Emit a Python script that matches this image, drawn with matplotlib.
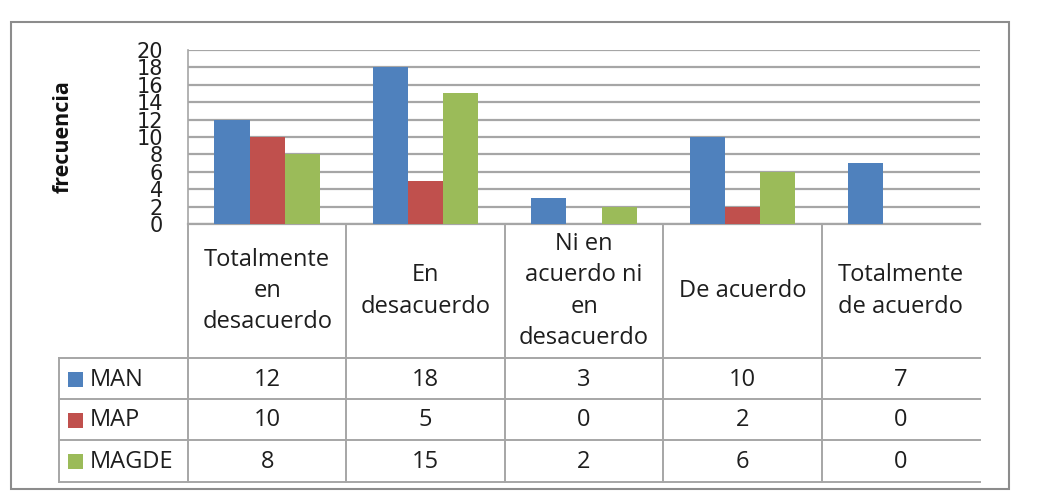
import matplotlib
matplotlib.use("Agg")
import matplotlib.pyplot as plt
from matplotlib.patches import Rectangle
from matplotlib.lines import Line2D
import numpy as np

categories = ["Totalmente\nen\ndesacuerdo", "En\ndesacuerdo",
              "Ni en\nacuerdo ni\nen\ndesacuerdo", "De acuerdo",
              "Totalmente\nde acuerdo"]
series_names = ["MAN", "MAP", "MAGDE"]
man = [12, 18, 3, 10, 7]
map_ = [10, 5, 0, 2, 0]
magde = [8, 15, 2, 6, 0]
values = [man, map_, magde]
colors = ["#4F81BD", "#C0504D", "#9BBB59"]
yticks = list(range(0, 21, 2))
ylabel = "frecuencia"

W, H = 1038, 493
fig = plt.figure(figsize=(W / 100, H / 100), dpi=100)
fig.patch.set_facecolor("white")

def fx(px):
    return px / W

def fy(py):
    return 1 - py / H

plot_l, plot_r, plot_t, plot_b = 188, 980, 50, 224
tab_b = 482
header_b = 358
legend_l = 59

font = "Open Sans"
grid_c = "#A6A6A6"
txt_c = "#1E1E1E"
tfs = 17

ax = fig.add_axes([fx(plot_l), fy(plot_b), fx(plot_r - plot_l), (plot_b - plot_t) / H])
n = len(categories)
x = np.arange(n)
bw = 1 / 4.5
for i, (vals, c) in enumerate(zip(values, colors)):
    ax.bar(x + (i - 1) * bw, vals, width=bw, color=c, zorder=3, linewidth=0)
ax.set_xlim(-0.5, n - 0.5)
ax.set_ylim(0, 20)
ax.set_yticks(yticks)
ax.set_yticklabels([str(t) for t in yticks], fontsize=15, family="DejaVu Sans",
                   color=txt_c)
ax.tick_params(axis="y", length=0, pad=18)
ax.tick_params(axis="x", length=0, labelbottom=False)
ax.set_xticks([])
ax.grid(axis="y", color=grid_c, linewidth=1.6, zorder=0)
for s in ["top", "right"]:
    ax.spines[s].set_visible(False)
ax.spines["left"].set_color(grid_c)
ax.spines["left"].set_linewidth(1.2)
ax.spines["bottom"].set_color(grid_c)
ax.spines["bottom"].set_linewidth(1.6)
ax.set_facecolor("none")

fig.text(fx(63), fy(137), ylabel, rotation=90, ha="center", va="center",
         fontsize=15.5, fontweight="bold", family=font, color="#111111")

# Table axes (x shared with bar chart data coords, y in pixel rows)
tax = fig.add_axes([fx(plot_l), fy(tab_b), fx(plot_r - plot_l), (tab_b - plot_b) / H],
                   sharex=ax)
tax.set_ylim(tab_b, plot_b)
tax.axis("off")
row_edges = [header_b, 399, 440, tab_b]
x_legend = -0.5 - (plot_l - legend_l) / ((plot_r - plot_l) / n)
lw = 1.4
for ye in row_edges:
    tax.add_line(Line2D([x_legend, n - 0.5], [ye, ye], color=grid_c, lw=lw, clip_on=False))
for xe in np.arange(n) - 0.5:
    tax.add_line(Line2D([xe, xe], [plot_b, tab_b], color=grid_c, lw=lw, clip_on=False))
tax.add_line(Line2D([x_legend, x_legend], [header_b, tab_b], color=grid_c, lw=lw, clip_on=False))

for i, cat in enumerate(categories):
    tax.text(i, (plot_b + header_b) / 2, cat, ha="center", va="center", fontsize=tfs,
             family=font, color=txt_c, linespacing=1.4, clip_on=False)

col_px = (plot_r - plot_l) / n
for r, (name, vals, c) in enumerate(zip(series_names, values, colors)):
    yc = (row_edges[r] + row_edges[r + 1]) / 2
    for i, v in enumerate(vals):
        tax.text(i, yc + 1, str(v), ha="center", va="center", fontsize=tfs,
                 family=font, color=txt_c)
    sq = 15 / col_px
    tax.add_patch(Rectangle((x_legend + 9 / col_px, yc - 7), sq, 15, facecolor=c,
                            edgecolor="none", clip_on=False))
    tax.text(x_legend + 31 / col_px, yc + 1, name, ha="left", va="center", fontsize=tfs,
             family=font, color=txt_c, clip_on=False)

# outer chart border
fig.add_artist(Rectangle((fx(11), fy(489)), fx(998), (489 - 22) / H, transform=fig.transFigure,
                         facecolor="none", edgecolor="#8C8C8C", linewidth=1.5))

fig.savefig("out.png", dpi=100, facecolor="white")
